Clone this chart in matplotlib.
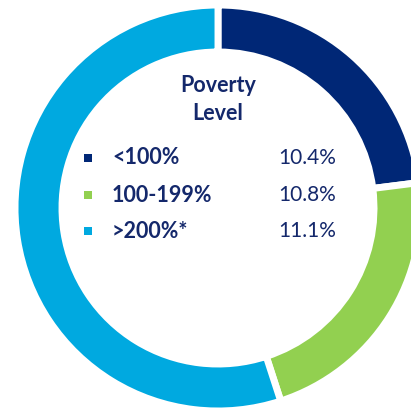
import matplotlib.pyplot as plt

# share of population by poverty level (ring) and rates shown in the legend
categories = ["<100%", "100-199%", ">200%*"]
shares = [23, 22, 55]
rates = ["10.4%", "10.8%", "11.1%"]
colors = ["#002776", "#92d050", "#00a9e0"]
text_color = "#14286b"

W, H = 411, 409
fig = plt.figure(figsize=(W / 100, H / 100), dpi=100)
ax = fig.add_axes([0, 0, 1, 1])

# ring, in pixel-like data units (y measured from the bottom)
cx, cy = 218, H - 208
r_out, ring = 203, 47
ax.pie(shares, colors=colors, startangle=90, counterclock=False,
       radius=r_out, center=(cx, cy),
       wedgeprops=dict(width=ring, edgecolor="white", linewidth=5))
ax.set_xlim(0, W)
ax.set_ylim(0, H)
ax.set_aspect("equal")
ax.axis("off")

plt.rcParams["font.family"] = ["Lato", "DejaVu Sans"]

ax.text(cx, H - 86, "Poverty", ha="center", va="center",
        fontsize=15.5, fontweight="bold", color=text_color)
ax.text(cx, H - 114, "Level", ha="center", va="center",
        fontsize=15.5, fontweight="bold", color=text_color)

rows_y = [158, 195, 231]
for y, cat, rate, col in zip(rows_y, categories, rates, colors):
    ax.scatter(88, H - y, marker="s", s=28, color=col, linewidths=0)
    ax.text(112, H - y, cat, ha="left", va="center",
            fontsize=15.5, fontweight="bold", color=text_color)
    ax.text(336, H - y, rate, ha="right", va="center",
            fontsize=15, color=text_color)

fig.savefig("out.png", dpi=100)
